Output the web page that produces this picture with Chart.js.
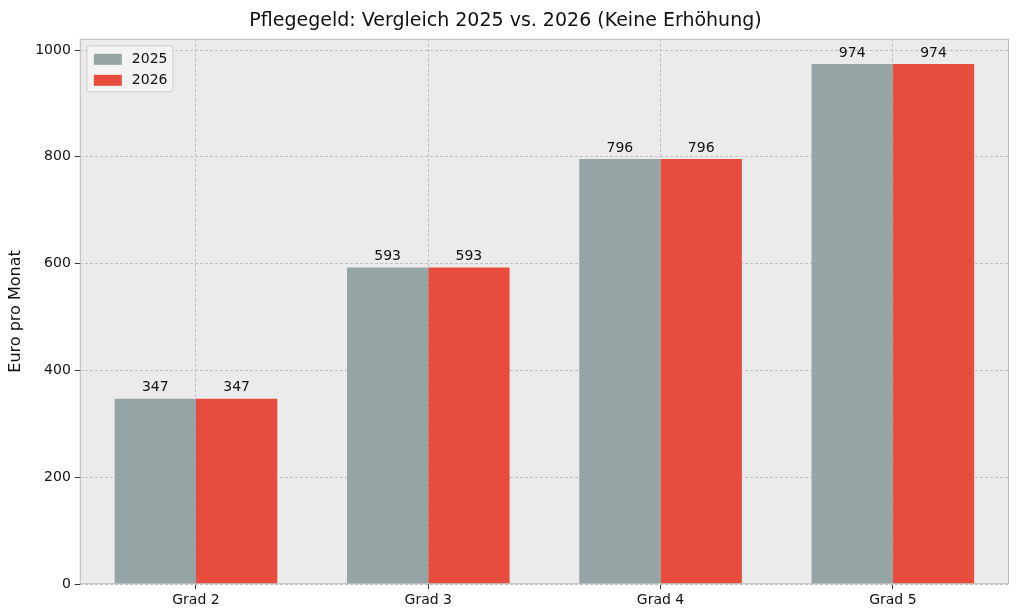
<!DOCTYPE html>
<html><head><meta charset="utf-8">
<script src="https://cdn.jsdelivr.net/npm/chart.js@4"></script>
<style>html,body{margin:0;padding:0;background:#fff}#w{width:1024px;height:614px}</style>
</head><body><div id="w"><canvas id="c"></canvas></div>
<script>
const categories = ["Grad 2","Grad 3","Grad 4","Grad 5"];
const values2025 = [347,593,796,974];
const values2026 = [347,593,796,974];
const seriesNames = ["2025","2026"];
const yTicks = [0,200,400,600,800,1000];
const colors = ["#95a5a6","#e74c3c"];
const FONT = "'DejaVu Sans', sans-serif";

const bgPlugin = {
  id:'bg',
  beforeDraw(ch){const a=ch.chartArea,x=ch.ctx;x.save();x.fillStyle='#ebebeb';x.fillRect(a.left,a.top,a.right-a.left,a.bottom-a.top);x.restore();},
  afterDraw(ch){
    const a=ch.chartArea,x=ch.ctx;x.save();
    x.strokeStyle='#bdbdbd';x.lineWidth=1;x.strokeRect(a.left+0.5,a.top+0.5,a.right-a.left-1,a.bottom-a.top-1);
    x.fillStyle='#111';x.font='14px '+FONT;x.textAlign='center';x.textBaseline='bottom';
    ch.data.datasets.forEach((ds,i)=>{ch.getDatasetMeta(i).data.forEach((b,j)=>{x.fillText(String(ds.data[j]),b.x,b.y-4);});});
    const lx=a.left+7,ly=a.top+7;
    x.fillStyle='rgba(245,245,245,0.85)';x.strokeStyle='#ccc';
    x.beginPath();x.roundRect(lx,ly,86,46,3);x.fill();x.stroke();
    ch.data.datasets.forEach((ds,i)=>{
      x.fillStyle=ds.backgroundColor;x.fillRect(lx+7,ly+8+i*21,28,11);
      x.fillStyle='#111';x.textAlign='left';x.textBaseline='middle';x.fillText(ds.label,lx+45,ly+14+i*21);
    });
    x.restore();
  }
};

new Chart(document.getElementById('c'),{
  type:'bar',
  data:{labels:categories,datasets:[
    {label:seriesNames[0],data:values2025,backgroundColor:colors[0]},
    {label:seriesNames[1],data:values2026,backgroundColor:colors[1]}
  ]},
  options:{
    responsive:true,maintainAspectRatio:false,animation:false,
    devicePixelRatio:1,
    layout:{padding:{left:2,right:15,top:0,bottom:2}},
    datasets:{bar:{categoryPercentage:0.7,barPercentage:1.0}},
    plugins:{
      legend:{display:false},tooltip:{enabled:false},
      title:{display:true,text:'Pflegegeld: Vergleich 2025 vs. 2026 (Keine Erhöhung)',color:'#111',font:{family:FONT,size:19,weight:'normal'},padding:{top:10,bottom:6}}
    },
    scales:{
      x:{grid:{color:'#bfbfbf',tickColor:'#333',tickLength:5,offset:false},
         border:{display:false,dash:[3,2]},
         ticks:{color:'#111',font:{family:FONT,size:14},padding:3}},
      y:{min:0,max:1021,
         afterBuildTicks:s=>{s.ticks=yTicks.map(v=>({value:v}));},
         grid:{color:'#bfbfbf',tickColor:'#333',tickLength:5},
         border:{display:false,dash:[3,2]},
         ticks:{color:'#111',font:{family:FONT,size:14},padding:4,callback:v=>String(v)},
         title:{display:true,text:'Euro pro Monat',color:'#111',font:{family:FONT,size:16},padding:{bottom:6}}}
    }
  },
  plugins:[bgPlugin]
});
</script></body></html>
